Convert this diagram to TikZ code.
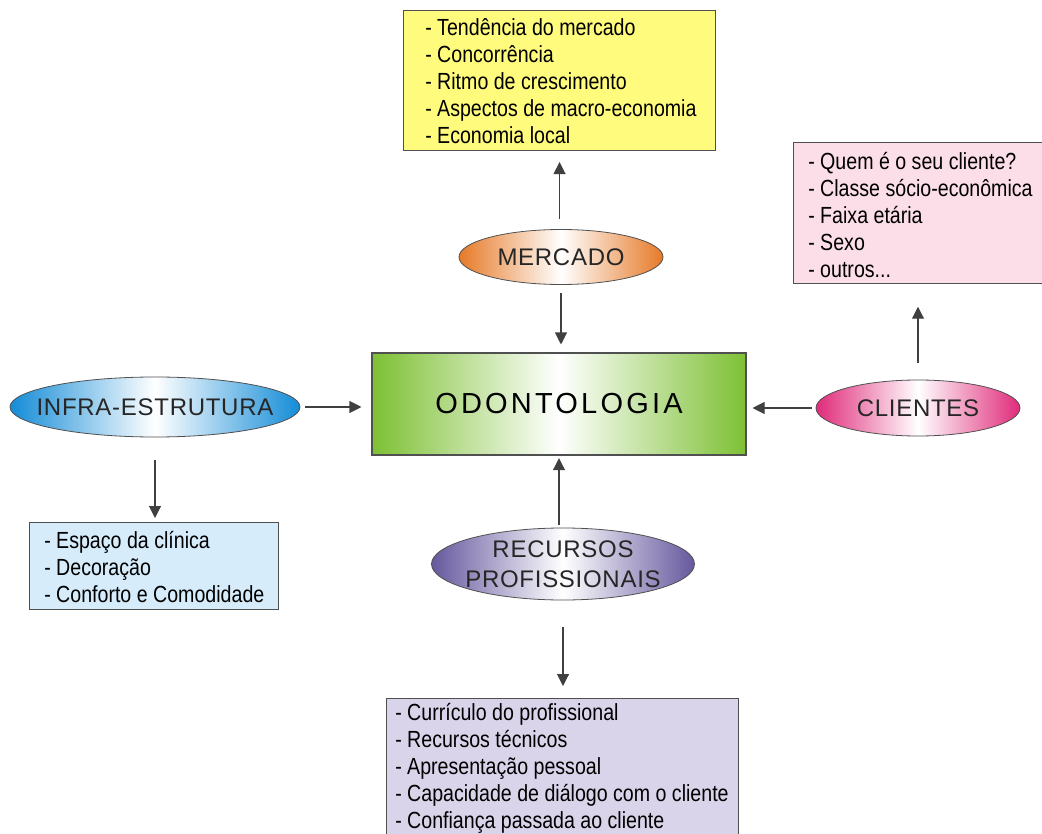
\documentclass[tikz,border=0pt]{standalone}
\usepackage{fontspec}
\usetikzlibrary{shapes.geometric,arrows.meta}
\newfontfamily\narrowfont[FakeStretch=0.84]{Liberation Sans}
\newfontfamily\lblfont[LetterSpace=3]{Liberation Sans}
\newfontfamily\bigfont[LetterSpace=11]{Liberation Sans}
\definecolor{yelfill}{RGB}{255,252,125}
\definecolor{pinkfill}{RGB}{252,222,232}
\definecolor{bluefill}{RGB}{214,236,250}
\definecolor{purpfill}{RGB}{218,212,234}
\definecolor{orangec}{RGB}{230,122,40}
\definecolor{bluec}{RGB}{20,140,215}
\definecolor{pinkc}{RGB}{224,42,122}
\definecolor{purpc}{RGB}{102,88,158}
\definecolor{greenc}{RGB}{125,192,52}
\definecolor{edgec}{RGB}{80,80,80}
\begin{document}
\begin{tikzpicture}[x=0.75pt,y=-0.75pt,
  infobox/.style={draw=edgec,line width=0.8pt,anchor=north west,inner sep=0pt},
  infotext/.style={anchor=west,align=left,inner sep=0pt,font=\narrowfont\fontsize{17.5}{20.25}\selectfont},
  oval/.style={ellipse,draw=edgec,line width=0.6pt,inner sep=0pt,
    label={[text=black!85,font=\lblfont\fontsize{18}{22.5}\selectfont,align=center]center:#1}},
  arr/.style={draw=black!75,line width=0.8pt,-{Triangle[length=9pt,width=9pt]}}]
\useasboundingbox (0,0) rectangle (1042,834);
% boxes
\node[infobox,fill=yelfill,minimum width=234pt,minimum height=105pt] (yb) at (403,10) {};
\node[infotext] (yt) at (425,81) {- Tendência do mercado\\- Concorrência\\- Ritmo de crescimento\\- Aspectos de macro-economia\\- Economia local};
\node[infobox,fill=pinkfill,minimum width=192.75pt,minimum height=105.75pt] (pb) at (793,142) {};
\node[infotext] (pt) at (808,215) {- Quem é o seu cliente?\\- Classe sócio-econômica\\- Faixa etária\\- Sexo\\- outros...};
\node[infobox,fill=bluefill,minimum width=186.75pt,minimum height=65.25pt] (bb) at (29,522) {};
\node[infotext] (bt) at (44,567) {- Espaço da clínica\\- Decoração\\- Conforto e Comodidade};
\node[infobox,fill=purpfill,minimum width=264pt,minimum height=106.5pt] (vb) at (386,698) {};
\node[infotext] (vt) at (395,768) {- Currículo do profissional\\- Recursos técnicos\\- Apresentação pessoal\\- Capacidade de diálogo com o cliente\\- Confiança passada ao cliente};
% central
\node[draw=edgec,line width=0.8pt,minimum width=280.5pt,minimum height=76.5pt,left color=greenc,right color=greenc,middle color=white,font=\bigfont\fontsize{21.75}{26}\selectfont,text=black] (odo) at (559,404) {ODONTOLOGIA};
% ovals
\node[oval=MERCADO,minimum width=153pt,minimum height=41.25pt,left color=orangec,right color=orangec,middle color=white] (merc) at (561,257) {};
\node[oval=INFRA-ESTRUTURA,minimum width=217.5pt,minimum height=45pt,left color=bluec,right color=bluec,middle color=white] (inf) at (155,407) {};
\node[oval=CLIENTES,minimum width=153pt,minimum height=42pt,left color=pinkc,right color=pinkc,middle color=white] (cli) at (918,408) {};
\node[oval={RECURSOS\\PROFISSIONAIS},minimum width=197.25pt,minimum height=54pt,left color=purpc,right color=purpc,middle color=white] (rec) at (563,564) {};
% arrows
\draw[arr,shorten <=7.5pt,shorten >=8.25pt] (yb.south |- merc.north) -- (yb.south);
\draw[arr,shorten <=6pt,shorten >=6pt] (merc.south) -- (merc.south |- odo.north);
\draw[arr,shorten <=3.75pt,shorten >=7.5pt] (inf.east) -- (inf.east -| odo.west);
\draw[arr,shorten <=17pt,shorten >=3pt] (inf.south) -- (inf.south |- bb.north);
\draw[arr,shorten <=3pt,shorten >=4.5pt] (cli.west) -- (cli.west -| odo.east);
\draw[arr,shorten <=12.75pt,shorten >=17pt] (cli.north) -- (cli.north |- pb.south);
\draw[arr,shorten <=2pt,shorten >=2pt] (rec.north -| odo.south) -- (odo.south);
\draw[arr,shorten <=20pt,shorten >=9pt] (rec.south) -- (rec.south |- vb.north);
\end{tikzpicture}
\end{document}
